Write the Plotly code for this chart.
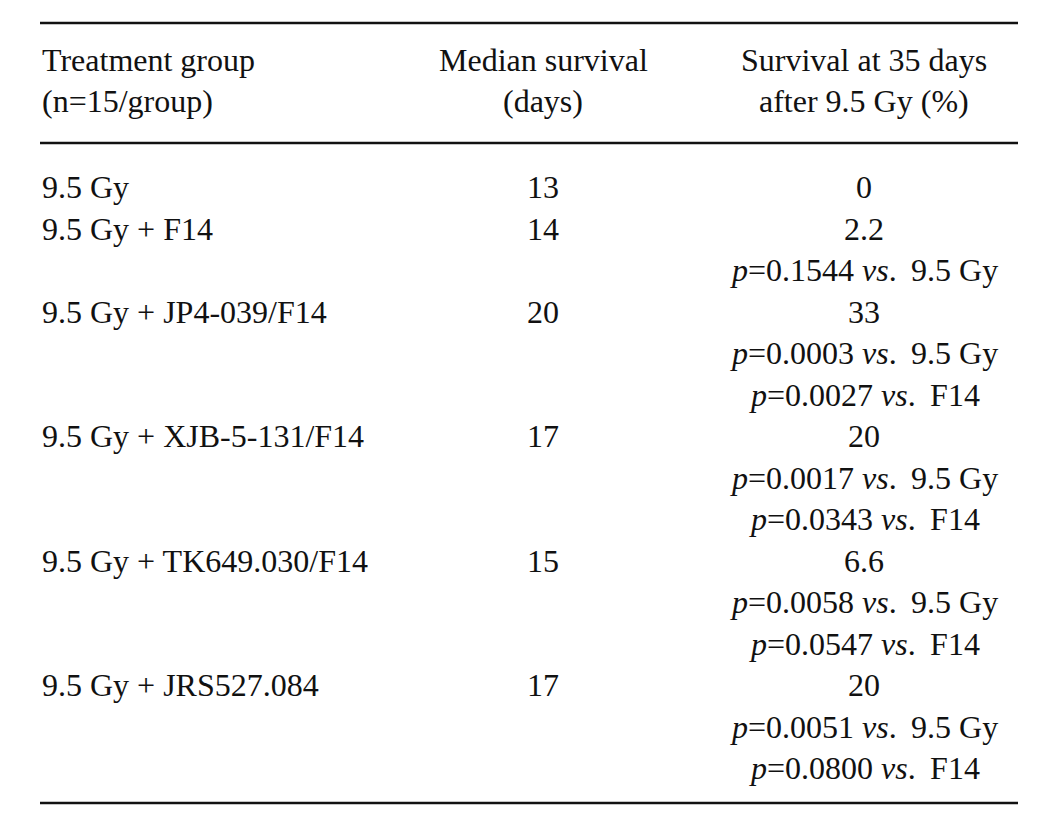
import plotly.graph_objects as go

# ---- data ----
header_col1 = ["Treatment group", "(n=15/group)"]
header_col2 = ["Median survival", "(days)"]
header_col3 = ["Survival at 35 days", "after 9.5 Gy (%)"]

groups = ["9.5 Gy", "9.5 Gy + F14", "9.5 Gy + JP4-039/F14", "9.5 Gy + XJB-5-131/F14",
          "9.5 Gy + TK649.030/F14", "9.5 Gy + JRS527.084"]
median_survival = ["13", "14", "20", "17", "15", "17"]
survival_35 = ["0", "2.2", "33", "20", "6.6", "20"]
p_vs_gy = [None, "0.1544", "0.0003", "0.0017", "0.0058", "0.0051"]
p_vs_f14 = [None, None, "0.0027", "0.0343", "0.0547", "0.0800"]

# ---- layout constants (page pixel coordinates; the page body has an 8px margin) ----
PAGE_W, PAGE_H = 1060, 833
OFF = 8
FONT = dict(family="Liberation Serif", size=32, color="#111111")
X_LEFT, X_RIGHT = 40, 1018
X_COL1 = 40
X_COL2 = 543
X_COL3 = 864
HEAD_Y = [60, 101]
BODY_Y0 = 187
STEP = 41.5
RULES = [(23, 2.4), (143, 2.4), (803, 2.4)]
SP = "\u2009"  # thin extra space as in the typeset original

annotations = []

def add_text(x, y, text, anchor):
    annotations.append(dict(x=x, y=y, xref="x", yref="y", text=text, showarrow=False,
                            xanchor=anchor, yanchor="middle", font=FONT))

for i in range(2):
    add_text(X_COL1, HEAD_Y[i], header_col1[i], "left")
    add_text(X_COL2, HEAD_Y[i], header_col2[i], "center")
    add_text(X_COL3, HEAD_Y[i], header_col3[i], "center")

line = 0
for g, m, s, pg, pf in zip(groups, median_survival, survival_35, p_vs_gy, p_vs_f14):
    y = BODY_Y0 + STEP * line
    add_text(X_COL1, y, g, "left")
    add_text(X_COL2, y, m, "center")
    add_text(X_COL3, y, s, "center")
    line += 1
    if pg is not None:
        add_text(X_COL3, BODY_Y0 + STEP * line,
                 f"<i>p</i>={pg} <i>vs</i>.{SP} 9.5 Gy", "center")
        line += 1
    if pf is not None:
        add_text(X_COL3, BODY_Y0 + STEP * line,
                 f"<i>p</i>={pf} <i>vs</i>.{SP} F14", "center")
        line += 1

shapes = [dict(type="line", xref="x", yref="y", x0=X_LEFT, x1=X_RIGHT, y0=y, y1=y,
               line=dict(color="#111111", width=w)) for y, w in RULES]

fig = go.Figure()
fig.update_layout(
    width=PAGE_W - OFF, height=PAGE_H - OFF,
    margin=dict(l=0, r=0, t=0, b=0),
    paper_bgcolor="white", plot_bgcolor="white",
    xaxis=dict(range=[OFF, PAGE_W], visible=False, fixedrange=True),
    yaxis=dict(range=[PAGE_H, OFF], visible=False, fixedrange=True),
    annotations=annotations, shapes=shapes, showlegend=False,
)
fig.write_html("out.html")
